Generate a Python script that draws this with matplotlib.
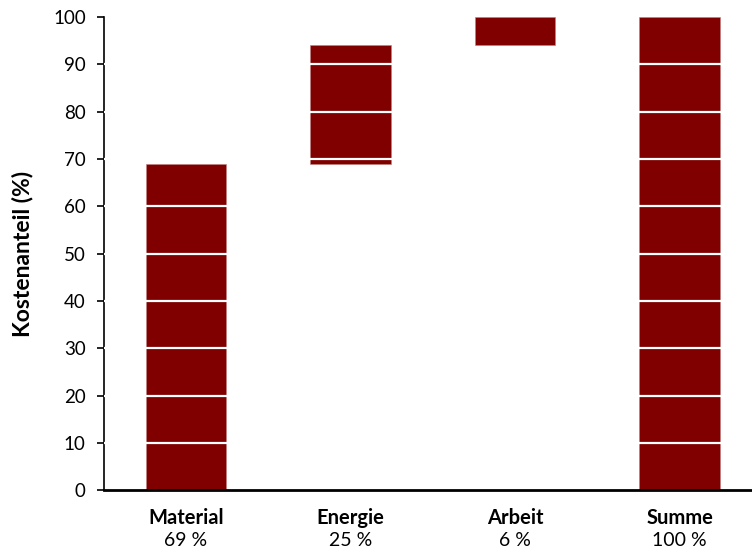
import matplotlib
matplotlib.use('Agg')
import matplotlib.pyplot as plt
import matplotlib.transforms as mtransforms

plt.rcParams['font.family'] = ['Lato', 'DejaVu Sans']

# cost shares in percent
categories = ['Material', 'Energie', 'Arbeit', 'Summe']
shares = [69, 25, 6, 100]
value_labels = ['69 %', '25 %', '6 %', '100 %']

# waterfall: each part starts where the previous one ended, the total starts at 0
bottoms = []
running = 0
for i, v in enumerate(shares):
    if i == len(shares) - 1:
        bottoms.append(0)
    else:
        bottoms.append(running)
        running += v

bar_color = '#800000'

fig, ax = plt.subplots(figsize=(7.52, 5.52), dpi=100)
fig.subplots_adjust(left=0.138, right=1.0, top=0.969, bottom=0.112)

x = list(range(len(categories)))
ax.bar(x, shares, bottom=bottoms, width=0.49, color=bar_color,
       edgecolor='#c08080', linewidth=0.4, zorder=2)

# white gridlines cut through the bars
yticks = list(range(0, 101, 10))
ax.hlines(yticks[1:-1], -0.5, 3.44, colors='white', linewidth=1.6, zorder=3)

ax.set_xlim(-0.5, 3.44)
ax.set_ylim(0, 100)
ax.set_yticks(yticks)
ax.tick_params(axis='y', labelsize=13.5, length=5, width=1.2, direction='out', pad=8)
ax.set_xticks([])

for side in ['top', 'right']:
    ax.spines[side].set_visible(False)
ax.spines['left'].set_linewidth(1.2)
ax.spines['bottom'].set_linewidth(2)
ax.spines['bottom'].set_zorder(5)

ax.set_ylabel('Kostenanteil (%)', fontsize=16.5, fontweight='bold', labelpad=14)

# two-line category labels below the axis
trans = mtransforms.blended_transform_factory(ax.transData, ax.transAxes)
for xi, name, lab in zip(x, categories, value_labels):
    ax.text(xi, -0.058, name, transform=trans, ha='center', va='center',
            fontsize=14.5, fontweight='bold')
    ax.text(xi, -0.106, lab, transform=trans, ha='center', va='center',
            fontsize=14)

plt.savefig('out.png', dpi=100)
